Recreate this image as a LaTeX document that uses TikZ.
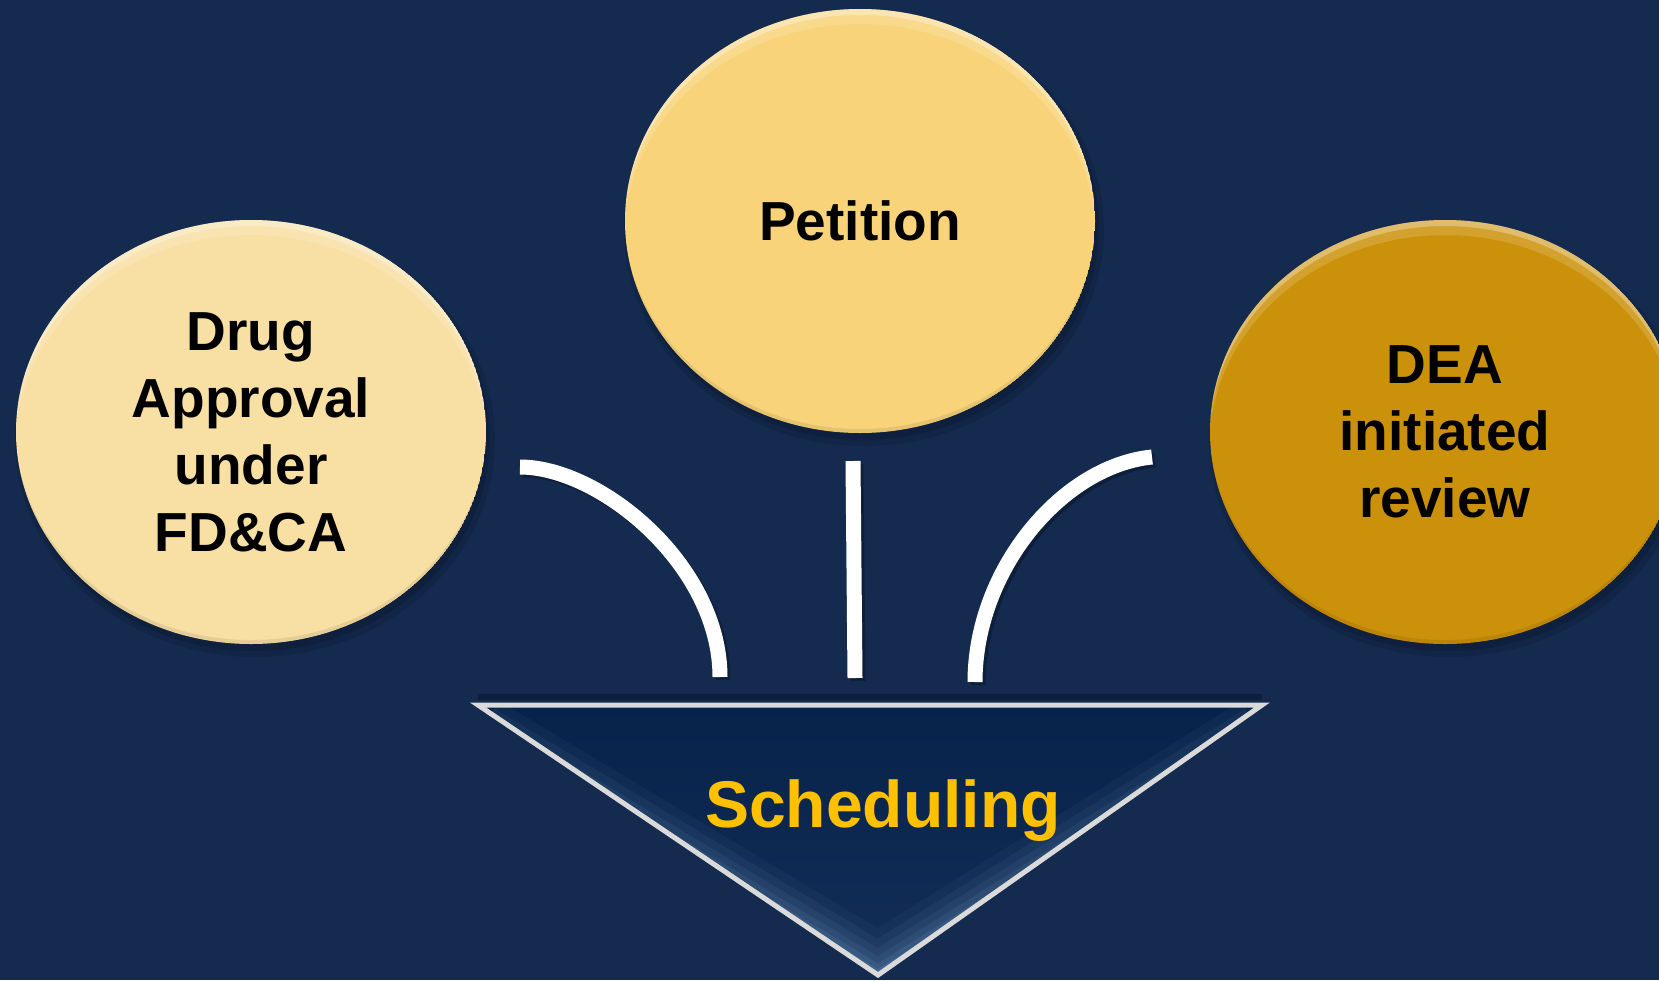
\documentclass[tikz,border=0pt]{standalone}
\usepackage{fontspec}
\setmainfont{Liberation Sans}
\usetikzlibrary{shapes.geometric}
\definecolor{bg}{HTML}{142A4F}
\definecolor{cDrug}{HTML}{F8DFA3}
\definecolor{cPet}{HTML}{F8D379}
\definecolor{cDea}{HTML}{CC910A}
\definecolor{triTop}{HTML}{07234A}
\definecolor{triBot}{HTML}{142E56}
\definecolor{glow}{HTML}{7098C0}
\definecolor{rim}{HTML}{DADADA}
\definecolor{gold}{HTML}{FFC000}
\tikzset{
  bubbletext/.style={ellipse, minimum width=470pt, minimum height=424pt, inner sep=0pt,
    align=center, text=black, font=\fontsize{55}{67}\selectfont\bfseries},
  connector/.style={white, line width=15pt, line cap=butt},
  connshadow/.style={black, opacity=0.25, line width=15pt, line cap=butt},
}
\newcommand{\bevelellipse}[3]{%
  \fill[black, opacity=0.10] (#1+4,#2+8) ellipse [x radius=240, y radius=217];
  \fill[black, opacity=0.12] (#1+3,#2+6) ellipse [x radius=236, y radius=213];
  \begin{scope}
    \clip (#1,#2) ellipse [x radius=235, y radius=212];
    \fill[#3] (#1,#2) ellipse [x radius=235, y radius=212];
    \fill[white, opacity=0.30, even odd rule] (#1,#2) ellipse [x radius=236, y radius=213]
         (#1,#2+7) ellipse [x radius=236, y radius=213];
    \fill[white, opacity=0.15, even odd rule] (#1,#2) ellipse [x radius=236, y radius=213]
         (#1,#2+16) ellipse [x radius=236, y radius=213];
    \fill[black, opacity=0.08, even odd rule] (#1,#2) ellipse [x radius=236, y radius=213]
         (#1,#2-5) ellipse [x radius=236, y radius=213];
  \end{scope}}
\begin{document}
\begin{tikzpicture}[x=1pt, y=-1pt]
\useasboundingbox (0,0) rectangle (1659,980);
\fill[bg] (0,0) rectangle (1659,980);

% bubbles
\bevelellipse{251}{432}{cDrug}
\bevelellipse{860}{221}{cPet}
\bevelellipse{1445}{432}{cDea}
\node[bubbletext] (drug) at (251,432) {Drug\\Approval\\under\\FD\&CA};
\node[bubbletext] (petition) at (860,221) {Petition};
\node[bubbletext] (dea) at (1445,432) {DEA\\initiated\\review};

% triangle
\coordinate (tl) at (478,705);
\coordinate (tr) at (1262,705);
\coordinate (tb) at (878,975);
\fill[black, opacity=0.25] (478,700) -- (1262,700) -- (1262,694) -- (478,694) -- cycle;
\begin{scope}
  \clip (tl) -- (tr) -- (tb) -- cycle;
  \shade[top color=triTop, bottom color=triBot] (tl) -- (tr) -- (tb) -- cycle;
  \foreach \w/\o in {80/0.06, 62/0.08, 46/0.10, 32/0.12, 20/0.15, 10/0.2} {
    \draw[glow, opacity=\o, line width=\w pt, line join=round] ([yshift=-30pt]tl) -- (tb) -- ([yshift=-30pt]tr);
  }
\end{scope}
\draw[rim, line width=5pt, line join=miter] (tl) -- (tr) -- (tb) -- cycle;
\node[text=gold, anchor=base, font=\fontsize{66}{70}\selectfont\bfseries] (sched) at (883,827) {Scheduling};

% connectors
\coordinate (a1) at (520,467);
\coordinate (a2) at (720,677);
\coordinate (b1) at (853,461);
\coordinate (b2) at (855,678);
\coordinate (c1) at (1152,457);
\coordinate (c2) at (975,682);
\draw[connshadow] ([xshift=3pt,yshift=-3pt]a1) .. controls ([xshift=3pt,yshift=-3pt]600,467) and ([xshift=3pt,yshift=-3pt]720,565) .. ([xshift=3pt,yshift=-3pt]a2);
\draw[connshadow] ([xshift=3pt,yshift=-3pt]b1) -- ([xshift=3pt,yshift=-3pt]b2);
\draw[connshadow] ([xshift=3pt,yshift=-3pt]c1) .. controls ([xshift=3pt,yshift=-3pt]1062,466) and ([xshift=3pt,yshift=-3pt]975,570) .. ([xshift=3pt,yshift=-3pt]c2);
\draw[connector] (a1) .. controls (600,467) and (720,565) .. (a2);
\draw[connector] (b1) -- (b2);
\draw[connector] (c1) .. controls (1062,466) and (975,570) .. (c2);
\end{tikzpicture}
\end{document}
